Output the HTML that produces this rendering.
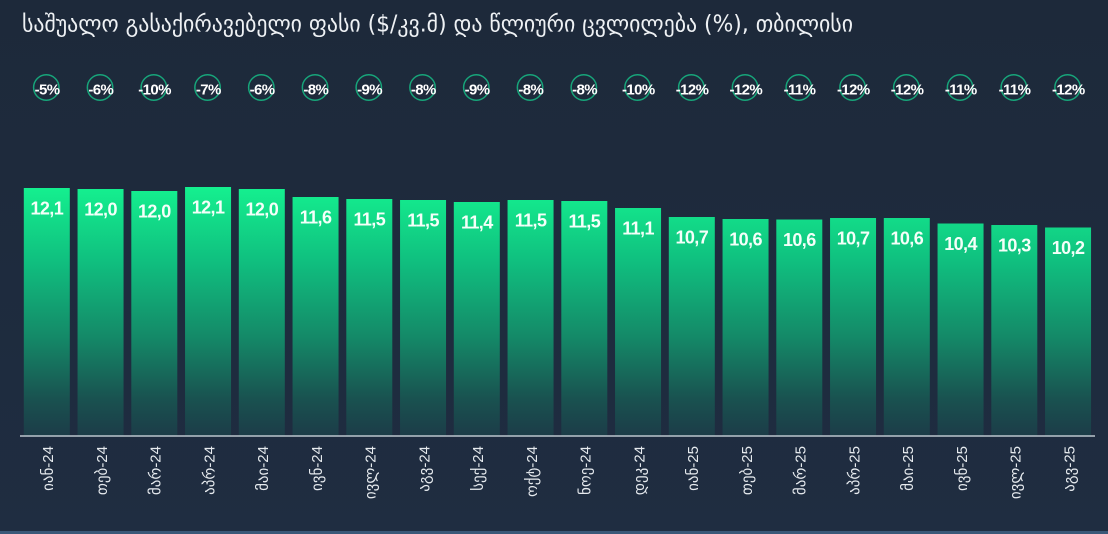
<!DOCTYPE html>
<html>
<head>
<meta charset="utf-8">
<style>
html,body{margin:0;padding:0;background:#1e2a3c;}
svg{display:block;}
</style>
</head>
<body>
<svg width="1108" height="534" viewBox="0 0 1108 534" xmlns="http://www.w3.org/2000/svg">
<defs>
<linearGradient id="bg" x1="0" y1="0" x2="0" y2="1">
<stop offset="0" stop-color="#1d293a"/>
<stop offset="1" stop-color="#1f2d41"/>
</linearGradient>
<linearGradient id="bar" gradientUnits="userSpaceOnUse" x1="0" y1="187" x2="0" y2="436">
<stop offset="0" stop-color="#14f08f"/>
<stop offset="0.3" stop-color="#10bf7f"/>
<stop offset="0.6" stop-color="#148a68"/>
<stop offset="0.85" stop-color="#195250"/>
<stop offset="1" stop-color="#1c3c48"/>
</linearGradient>
</defs>
<rect x="0" y="0" width="1108" height="534" fill="url(#bg)"/>
<rect x="0" y="531" width="1108" height="3" fill="#3b5878"/>

<text x="22" y="31.5" font-family="'DejaVu Sans','Liberation Sans',sans-serif" font-size="23" fill="#eef1f4" textLength="831" lengthAdjust="spacingAndGlyphs">საშუალო გასაქირავებელი ფასი ($/კვ.მ) და წლიური ცვლილება (%), თბილისი</text>

<g fill="url(#bar)">
<rect x="23.8" y="188" width="46" height="248"/>
<rect x="77.55" y="189" width="46" height="247"/>
<rect x="131.3" y="191" width="46" height="245"/>
<rect x="185.05" y="187" width="46" height="249"/>
<rect x="238.8" y="189" width="46" height="247"/>
<rect x="292.55" y="197" width="46" height="239"/>
<rect x="346.3" y="199" width="46" height="237"/>
<rect x="400.05" y="200" width="46" height="236"/>
<rect x="453.8" y="202" width="46" height="234"/>
<rect x="507.55" y="200" width="46" height="236"/>
<rect x="561.3" y="201" width="46" height="235"/>
<rect x="615.05" y="208" width="46" height="228"/>
<rect x="668.8" y="217" width="46" height="219"/>
<rect x="722.55" y="219" width="46" height="217"/>
<rect x="776.3" y="219.5" width="46" height="216.5"/>
<rect x="830.05" y="218" width="46" height="218"/>
<rect x="883.8" y="218" width="46" height="218"/>
<rect x="937.55" y="223.5" width="46" height="212.5"/>
<rect x="991.3" y="225" width="46" height="211"/>
<rect x="1045.05" y="227.5" width="46" height="208.5"/>
</g>

<g font-family="'Liberation Sans',sans-serif" font-weight="bold" font-size="18" fill="#f4fff9" text-anchor="middle" letter-spacing="-0.6">
<text x="46.8" y="214.5">12,1</text>
<text x="100.55" y="215.5">12,0</text>
<text x="154.3" y="217.5">12,0</text>
<text x="208.05" y="213.5">12,1</text>
<text x="261.8" y="215.5">12,0</text>
<text x="315.55" y="223.5">11,6</text>
<text x="369.3" y="225.5">11,5</text>
<text x="423.05" y="226.5">11,5</text>
<text x="476.8" y="228.5">11,4</text>
<text x="530.55" y="226.5">11,5</text>
<text x="584.3" y="227.5">11,5</text>
<text x="638.05" y="234.5">11,1</text>
<text x="691.8" y="243.5">10,7</text>
<text x="745.55" y="245.5">10,6</text>
<text x="799.3" y="246">10,6</text>
<text x="853.05" y="244.5">10,7</text>
<text x="906.8" y="244.5">10,6</text>
<text x="960.55" y="250">10,4</text>
<text x="1014.3" y="251.5">10,3</text>
<text x="1068.05" y="254">10,2</text>
</g>

<g fill="none" stroke="#17a57a" stroke-width="1.5">
<circle cx="46.3" cy="87.5" r="12.7"/>
<circle cx="100.05" cy="87.5" r="12.7"/>
<circle cx="153.8" cy="87.5" r="12.7"/>
<circle cx="207.55" cy="87.5" r="12.7"/>
<circle cx="261.3" cy="87.5" r="12.7"/>
<circle cx="315.05" cy="87.5" r="12.7"/>
<circle cx="368.8" cy="87.5" r="12.7"/>
<circle cx="422.55" cy="87.5" r="12.7"/>
<circle cx="476.3" cy="87.5" r="12.7"/>
<circle cx="530.05" cy="87.5" r="12.7"/>
<circle cx="583.8" cy="87.5" r="12.7"/>
<circle cx="637.55" cy="87.5" r="12.7"/>
<circle cx="691.3" cy="87.5" r="12.7"/>
<circle cx="745.05" cy="87.5" r="12.7"/>
<circle cx="798.8" cy="87.5" r="12.7"/>
<circle cx="852.55" cy="87.5" r="12.7"/>
<circle cx="906.3" cy="87.5" r="12.7"/>
<circle cx="960.05" cy="87.5" r="12.7"/>
<circle cx="1013.8" cy="87.5" r="12.7"/>
<circle cx="1067.55" cy="87.5" r="12.7"/>
</g>

<g font-family="'Liberation Sans',sans-serif" font-weight="bold" font-size="15" fill="#ffffff" text-anchor="middle" letter-spacing="-0.6">
<text x="47" y="94.5">-5%</text>
<text x="100.75" y="94.5">-6%</text>
<text x="154.5" y="94.5">-10%</text>
<text x="208.25" y="94.5">-7%</text>
<text x="262" y="94.5">-6%</text>
<text x="315.75" y="94.5">-8%</text>
<text x="369.5" y="94.5">-9%</text>
<text x="423.25" y="94.5">-8%</text>
<text x="477" y="94.5">-9%</text>
<text x="530.75" y="94.5">-8%</text>
<text x="584.5" y="94.5">-8%</text>
<text x="638.25" y="94.5">-10%</text>
<text x="692" y="94.5">-12%</text>
<text x="745.75" y="94.5">-12%</text>
<text x="799.5" y="94.5">-11%</text>
<text x="853.25" y="94.5">-12%</text>
<text x="907" y="94.5">-12%</text>
<text x="960.75" y="94.5">-11%</text>
<text x="1014.5" y="94.5">-11%</text>
<text x="1068.25" y="94.5">-12%</text>
</g>

<line x1="20" y1="436" x2="1095" y2="436" stroke="#bcc5ce" stroke-width="1.5"/>

<g font-family="'Liberation Sans','DejaVu Sans',sans-serif" font-size="15" fill="#e6eaee" text-anchor="end">
<text transform="translate(53,446) rotate(-90)">იან-24</text>
<text transform="translate(106.75,446) rotate(-90)">თებ-24</text>
<text transform="translate(160.5,446) rotate(-90)">მარ-24</text>
<text transform="translate(214.25,446) rotate(-90)">აპრ-24</text>
<text transform="translate(268,446) rotate(-90)">მაი-24</text>
<text transform="translate(321.75,446) rotate(-90)">ივნ-24</text>
<text transform="translate(375.5,446) rotate(-90)">ივლ-24</text>
<text transform="translate(429.25,446) rotate(-90)">აგვ-24</text>
<text transform="translate(483,446) rotate(-90)">სექ-24</text>
<text transform="translate(536.75,446) rotate(-90)">ოქტ-24</text>
<text transform="translate(590.5,446) rotate(-90)">ნოე-24</text>
<text transform="translate(644.25,446) rotate(-90)">დეკ-24</text>
<text transform="translate(698,446) rotate(-90)">იან-25</text>
<text transform="translate(751.75,446) rotate(-90)">თებ-25</text>
<text transform="translate(805.5,446) rotate(-90)">მარ-25</text>
<text transform="translate(859.25,446) rotate(-90)">აპრ-25</text>
<text transform="translate(913,446) rotate(-90)">მაი-25</text>
<text transform="translate(966.75,446) rotate(-90)">ივნ-25</text>
<text transform="translate(1020.5,446) rotate(-90)">ივლ-25</text>
<text transform="translate(1074.25,446) rotate(-90)">აგვ-25</text>
</g>
</svg>
</body>
</html>
